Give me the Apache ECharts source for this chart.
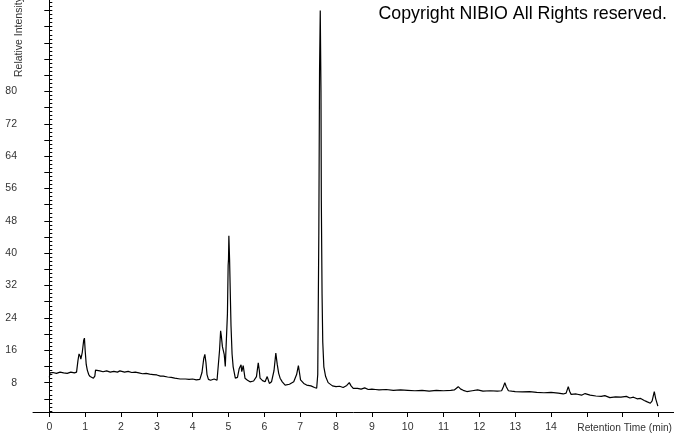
<!DOCTYPE html>
<html>
<head>
<meta charset="utf-8">
<script src="https://cdn.jsdelivr.net/npm/echarts@6/dist/echarts.min.js"></script>
<style>
html,body{margin:0;padding:0;background:#fff;}
#chart{width:674px;height:434px;}
</style>
</head>
<body>
<div id="chart"></div>
<script>
// Retention time (min)
const retentionTime = [
0.00,0.02,0.10,0.20,0.30,0.40,0.50,0.60,0.70,0.76,0.80,0.83,0.86,0.88,0.92,0.96,0.98,1.00,1.03,1.06,
1.10,1.14,1.23,1.27,1.29,1.33,1.41,1.50,1.60,1.70,1.80,1.90,1.97,2.10,2.20,2.30,2.40,2.50,2.60,2.70,
2.80,2.90,3.00,3.10,3.18,3.30,3.40,3.50,3.65,3.80,3.90,4.00,4.10,4.20,4.26,4.31,4.34,4.37,4.40,4.44,
4.50,4.60,4.68,4.72,4.75,4.78,4.80,4.83,4.86,4.88,4.91,4.94,4.97,4.99,5.00,5.01,5.03,5.05,5.07,5.10,
5.13,5.19,5.25,5.30,5.35,5.37,5.41,5.46,5.53,5.60,5.70,5.78,5.83,5.86,5.88,5.95,6.02,6.08,6.14,6.20,
6.27,6.32,6.36,6.40,6.44,6.50,6.58,6.70,6.82,6.90,6.95,6.98,7.01,7.10,7.18,7.30,7.40,7.46,7.49,7.52,
7.54,7.56,7.58,7.59,7.61,7.63,7.66,7.71,7.78,7.90,8.00,8.10,8.20,8.30,8.37,8.42,8.48,8.60,8.70,8.80,
8.90,9.00,9.10,9.20,9.40,9.60,9.80,10.00,10.20,10.40,10.60,10.80,11.00,11.20,11.30,11.41,11.48,11.55,11.65,11.80,
11.95,12.10,12.30,12.50,12.62,12.67,12.71,12.75,12.81,12.90,13.00,13.20,13.40,13.60,13.80,14.00,14.20,14.34,14.42,14.48,
14.52,14.56,14.70,14.85,14.95,15.09,15.25,15.40,15.50,15.64,15.80,15.95,16.10,16.20,16.30,16.40,16.50,16.60,16.67,16.77,
16.82,16.88,16.92,16.98
];
// Relative intensity
const relativeIntensity = [
9.3,10.4,10.5,10.3,10.6,10.4,10.3,10.6,10.4,10.6,13.5,15.1,14.6,13.8,15.5,18.5,19.0,16.0,12.5,11.1,
10.0,9.5,9.1,9.6,11.1,11.3,10.9,10.7,10.9,10.6,10.8,10.6,10.9,10.6,10.8,10.5,10.6,10.4,10.2,10.3,
10.1,10.0,9.9,9.6,9.6,9.4,9.3,9.1,8.9,8.9,8.8,8.9,8.7,8.8,10.5,14.0,15.0,13.0,10.0,8.8,
8.6,8.9,8.6,9.0,16.0,20.8,19.5,16.9,17.3,15.0,12.0,12.0,25.0,37.0,38.5,44.3,38.5,30.0,22.0,15.0,
11.9,9.1,9.3,11.5,12.4,10.7,12.2,9.1,8.6,8.2,8.4,9.5,12.9,11.0,9.1,8.5,8.2,9.5,7.8,8.2,
11.0,15.3,12.5,10.3,9.1,8.2,7.4,7.6,8.2,10.0,12.2,10.5,8.7,7.8,7.4,7.2,6.8,6.6,10.0,45.0,
85.0,100.0,80.0,53.0,30.0,18.0,11.9,9.5,8.0,7.2,7.0,7.1,6.8,7.3,8.0,7.2,6.6,6.6,6.4,6.7,
6.3,6.4,6.3,6.2,6.3,6.1,6.2,6.1,6.0,6.1,5.9,6.1,6.0,6.1,6.2,7.0,6.4,6.1,5.8,6.0,
6.2,5.9,6.0,5.9,6.0,7.0,8.0,7.0,6.0,5.9,5.8,5.7,5.8,5.6,5.5,5.6,5.4,5.2,5.4,7.0,
5.8,5.1,5.2,4.9,5.3,4.9,4.7,4.6,4.8,4.3,4.5,4.4,4.6,4.2,4.4,4.0,4.1,3.6,3.3,2.9,
3.5,5.8,4.0,2.2
];
// Tick labels
const xTickLabels = [0,1,2,3,4,5,6,7,8,9,10,11,12,13,14];
const xMajorTicks = [0,1,2,3,4,5,6,7,8,9,10,11,12,13,14,15,16,17];
const yTickLabels = [8,16,24,32,40,48,56,64,72,80];
const yMajorTicks = [4,8,12,16,20,24,28,32,36,40,44,48,52,56,60,64,68,72,76,80,84,88,92,96,100];

const xMinorTicks = [];
for (let i = -4; i <= 174; i++) xMinorTicks.push(+(i / 10).toFixed(1));
const yMinorTicks = [];
for (let i = 1; i <= 102; i++) yMinorTicks.push(i);

const seriesData = retentionTime.map((t, i) => [t, relativeIntensity[i]]);

const X_MIN = -0.455, X_MAX = 17.43, Y_MIN = 0.74, Y_MAX = 102.6;
const FONT = '"Liberation Sans", Arial, sans-serif';

const chart = echarts.init(document.getElementById('chart'));
chart.setOption({
  animation: false,
  backgroundColor: '#fff',
  grid: { left: 33, right: 0, top: 0, bottom: 22, containLabel: false },
  xAxis: [
    {
      type: 'value', min: X_MIN, max: X_MAX,
      axisLine: { show: true, lineStyle: { color: '#000', width: 1 } },
      axisTick: { show: true, customValues: xMajorTicks, length: 5, lineStyle: { color: '#000' } },
      axisLabel: { customValues: xTickLabels, margin: 10, fontSize: 10.5, color: '#333', fontFamily: FONT },
      splitLine: { show: false }
    },
    {
      type: 'value', min: X_MIN, max: X_MAX,
      axisLine: { show: false },
      axisTick: { show: true, customValues: xMinorTicks, length: 3, lineStyle: { color: '#000' } },
      axisLabel: { show: false },
      splitLine: { show: false }
    }
  ],
  yAxis: [
    {
      type: 'value', min: Y_MIN, max: Y_MAX,
      axisLine: { show: true, lineStyle: { color: '#000', width: 1 } },
      axisTick: { show: true, customValues: yMajorTicks, length: 5, lineStyle: { color: '#000' } },
      axisLabel: { customValues: yTickLabels, margin: 16, fontSize: 10.5, color: '#333', fontFamily: FONT },
      splitLine: { show: false }
    },
    {
      type: 'value', min: Y_MIN, max: Y_MAX,
      axisLine: { show: false },
      axisTick: { show: true, customValues: yMinorTicks, length: 3, lineStyle: { color: '#000' } },
      axisLabel: { show: false },
      splitLine: { show: false }
    }
  ],
  series: [
    {
      type: 'line', xAxisIndex: 0, yAxisIndex: 0,
      data: seriesData, showSymbol: false, symbol: 'none',
      lineStyle: { color: '#000', width: 1.2 },
      clip: false
    }
  ],
  graphic: [
    {
      type: 'text', x: 667, y: 14,
      style: { text: 'Copyright NIBIO All Rights reserved.', fill: '#000',
        font: '17.8px "Liberation Sans", Arial, sans-serif', textAlign: 'right', textVerticalAlign: 'middle' }
    },
    {
      type: 'text', x: 672, y: 428,
      style: { text: 'Retention Time (min)', fill: '#333',
        font: '10.2px "Liberation Sans", Arial, sans-serif', textAlign: 'right', textVerticalAlign: 'middle' }
    },
    {
      type: 'text', x: 19.5, y: 77, rotation: Math.PI / 2,
      style: { text: 'Relative Intensity', fill: '#333',
        font: '10.5px "Liberation Sans", Arial, sans-serif', textAlign: 'left', textVerticalAlign: 'middle' }
    }
  ]
});
</script>
</body>
</html>
